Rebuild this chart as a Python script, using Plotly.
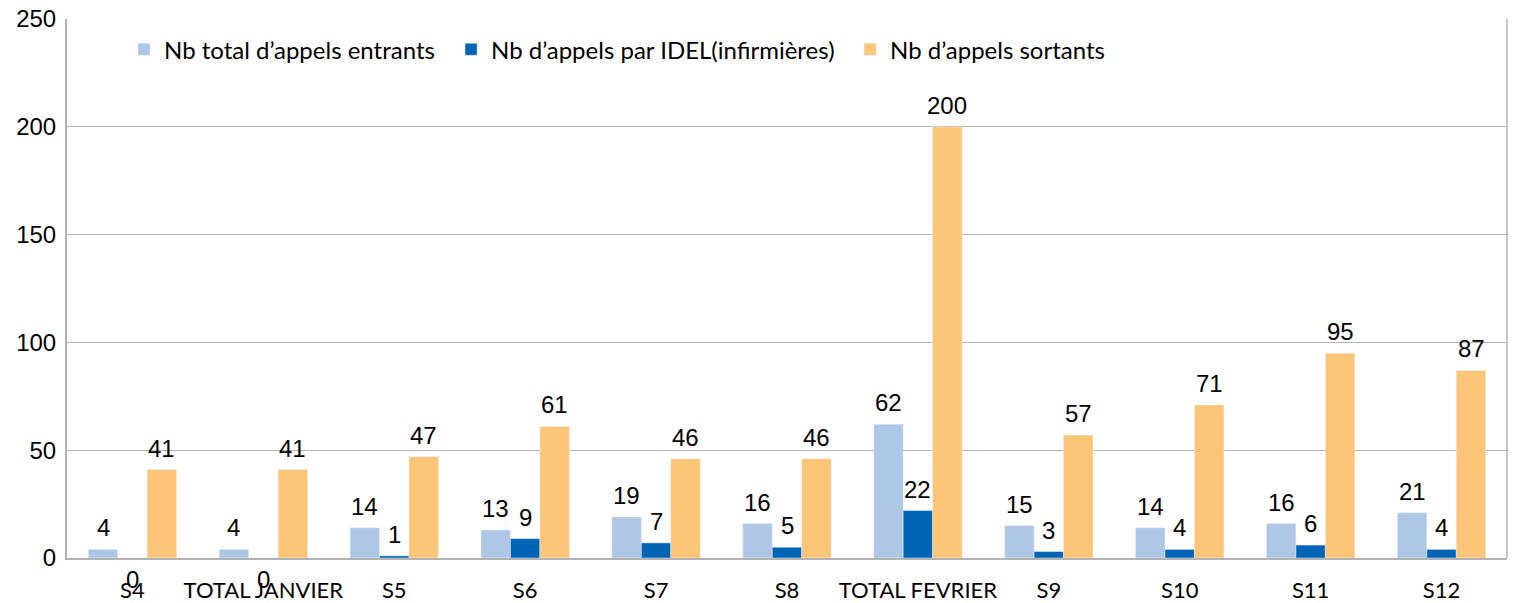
import plotly.graph_objects as go

categories = ["S4", "TOTAL JANVIER", "S5", "S6", "S7", "S8", "TOTAL FEVRIER", "S9", "S10", "S11", "S12"]
entrants = [4, 4, 14, 13, 19, 16, 62, 15, 14, 16, 21]
idel = [0, 0, 1, 9, 7, 5, 22, 3, 4, 6, 4]
sortants = [41, 41, 47, 61, 46, 46, 200, 57, 71, 95, 87]
y_ticks = [0, 50, 100, 150, 200, 250]

c_light = "#AFC7E7"
c_dark = "#0064B4"
c_orange = "#FCC577"
label_font = dict(family="Liberation Sans, Arial", size=24, color="#000000")
legend_font = dict(family="Lato, Open Sans", size=24, color="#000000")

BARGAP = 0.325
bar_w = (1 - BARGAP) / 3

series = [
    ("Nb total d’appels entrants", entrants, c_light, "legend", 0.0396),
    ("Nb d’appels par IDEL(infirmières)", idel, c_dark, "legend2", 0.2667),
    ("Nb d’appels sortants", sortants, c_orange, "legend3", 0.5438),
]

fig = go.Figure()
for name, vals, col, leg, lx in series:
    fig.add_trace(go.Bar(x=categories, y=vals, name=name, marker_color=col, legend=leg))

# data labels, anchored to each bar's value (group offsets in category units)
for k, (name, vals, col, leg, lx) in enumerate(series):
    off = (k - 1) * bar_w
    for i, v in enumerate(vals):
        if v == 0:
            fig.add_annotation(x=i + off, y=v, xref="x", yref="y", text=str(v),
                               showarrow=False, yanchor="top", yshift=-6, font=label_font)
        else:
            fig.add_annotation(x=i + off, y=v, xref="x", yref="y", text=str(v),
                               showarrow=False, yanchor="bottom", yshift=6, font=label_font)

legend_common = dict(orientation="h", y=0.943, xanchor="left", yanchor="middle",
                     font=legend_font, bgcolor="rgba(0,0,0,0)")
fig.update_layout(
    width=1521, height=603,
    margin=dict(l=59, r=22, t=11, b=53, autoexpand=False),
    plot_bgcolor="white", paper_bgcolor="white",
    barmode="group", bargap=BARGAP, bargroupgap=0,
    showlegend=True,
    legend=dict(x=series[0][4], **legend_common),
    legend2=dict(x=series[1][4], **legend_common),
    legend3=dict(x=series[2][4], **legend_common),
)
fig.update_xaxes(showline=True, linecolor="#B3B3B3", linewidth=2, mirror=False,
                 ticks="", tickfont=dict(family="Lato, Open Sans", size=22, color="#000000"),
                 showgrid=False, automargin=False, ticklabelstandoff=12)
fig.update_yaxes(range=[0, 250], tickvals=y_ticks, showgrid=True, gridcolor="#B3B3B3",
                 gridwidth=1, showline=True, linecolor="#B3B3B3", linewidth=2, ticks="",
                 tickfont=dict(family="Liberation Sans, Arial", size=24, color="#000000"),
                 zeroline=False, ticklabelstandoff=4, automargin=False,
                 ticklabeloverflow="allow")
# right border of plot area
fig.add_shape(type="line", xref="paper", yref="paper", x0=1, x1=1, y0=0, y1=1,
              line=dict(color="#B3B3B3", width=1.5))

fig.write_html("out.html")
